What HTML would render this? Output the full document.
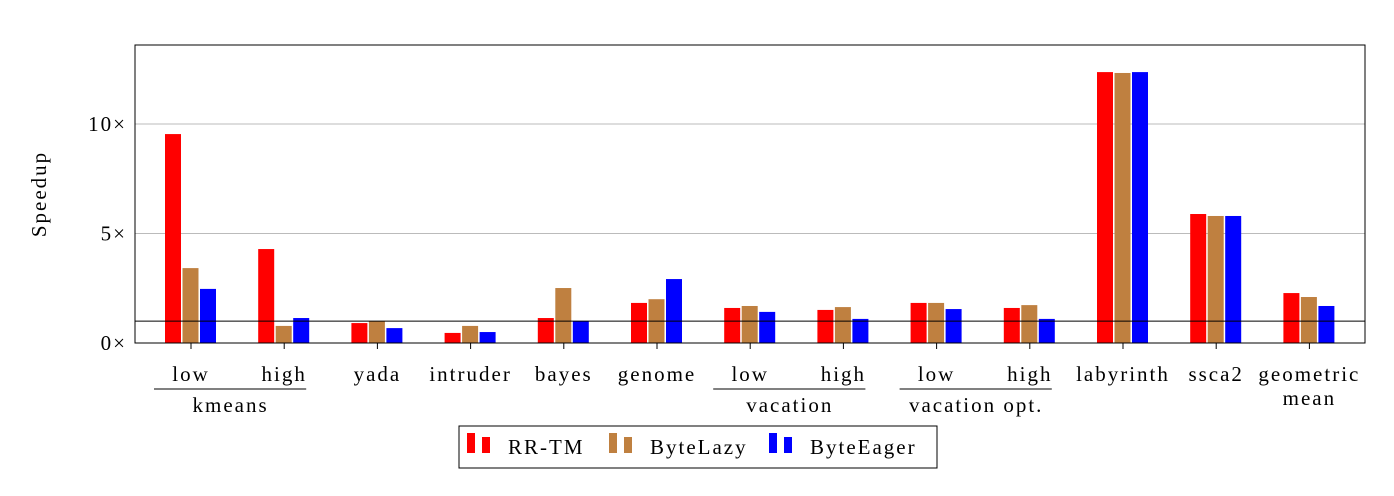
<!DOCTYPE html>
<html><head><meta charset="utf-8"><style>
body{margin:0;background:#fff;}
svg text{font-family:"Liberation Serif",serif;font-size:21px;letter-spacing:2px;fill:#000;}
</style></head><body>
<svg id="chart" width="1394" height="491" xmlns="http://www.w3.org/2000/svg">
<g id="grid"></g><g id="bars"></g><g id="axes"></g><g id="labels"></g><g id="legend"></g>
</svg>
<script>
const categories=["low","high","yada","intruder","bayes","genome","low","high","low","high","labyrinth","ssca2","geometric|mean"];
const rrtm=[9.54,4.29,0.91,0.46,1.14,1.83,1.6,1.51,1.83,1.6,12.37,5.89,2.28];
const byteLazy=[3.42,0.78,1.0,0.78,2.51,2.0,1.69,1.64,1.83,1.73,12.33,5.8,2.1];
const byteEager=[2.47,1.14,0.68,0.5,1.0,2.92,1.42,1.1,1.55,1.1,12.37,5.8,1.69];
const yTicks=[0,5,10];
const yTickLabels=["0×","5×","10×"];
const groups=[{name:"kmeans",from:0,to:1},{name:"vacation",from:6,to:7},{name:"vacation opt.",from:8,to:9}];
const seriesNames=["RR-TM","ByteLazy","ByteEager"];
const colors=["#ff0000","#bf8040","#0000ff"];
const NS="http://www.w3.org/2000/svg";
const L=135,R=1365,T=45,B=343;
const y=v=>B-v*21.9;
const x=i=>191+i*93.2;
function mk(tag,attrs,parent,txt){const e=document.createElementNS(NS,tag);for(const k in attrs)e.setAttribute(k,attrs[k]);if(txt!==undefined)e.textContent=txt;document.getElementById(parent).appendChild(e);return e;}
yTicks.forEach((t,i)=>{
  if(t>0){const g=mk("line",{x1:L,x2:R,y1:y(t),y2:y(t),stroke:"#bbb","stroke-width":1},"grid");
  
  }
  const tl=mk("text",{x:L-8,y:y(t)+7,"text-anchor":"end"},"axes",yTickLabels[i]);
  
  
});
const series=[rrtm,byteLazy,byteEager];
series.forEach((s,si)=>s.forEach((v,i)=>{
  const b=mk("rect",{x:x(i)-26+si*17.5,y:y(v),width:16,height:B-y(v),fill:colors[si]},"bars");
  
  
}));
const ref=mk("line",{x1:L,x2:R,y1:y(1),y2:y(1),stroke:"#000","stroke-width":1},"axes");


const frame=mk("rect",{x:L,y:T,width:R-L,height:B-T,fill:"none",stroke:"#000","stroke-width":1},"axes");


categories.forEach((c,i)=>{
  const tk=mk("line",{x1:x(i),x2:x(i),y1:B,y2:B+6,stroke:"#000"},"axes");
  
  
  c.split("|").forEach((p,j)=>{
    const t=mk("text",{x:x(i),y:381+j*24,"text-anchor":"middle"},"labels",p);
    
    
  });
});
groups.forEach(g=>{
  const ln=mk("line",{x1:x(g.from)-37,x2:x(g.to)+22,y1:389,y2:389,stroke:"#000"},"labels");
  
  
  const t=mk("text",{x:(x(g.from)+x(g.to))/2-7,y:412,"text-anchor":"middle"},"labels",g.name);
  
  
});
const yt=mk("text",{x:0,y:0,"text-anchor":"middle",transform:"translate(46,194) rotate(-90)"},"axes","Speedup");


const lb=mk("rect",{x:459,y:426,width:478,height:42,fill:"#fff",stroke:"#000"},"legend");


const lx=[467,609,769];
seriesNames.forEach((n,i)=>{
  mk("rect",{x:lx[i],y:433,width:8,height:20,fill:colors[i]},"legend");
  mk("rect",{x:lx[i]+15,y:437,width:8,height:16,fill:colors[i]},"legend");
  const t=mk("text",{x:lx[i]+41,y:454},"legend",n);
  
  
});
</script>
</body></html>
